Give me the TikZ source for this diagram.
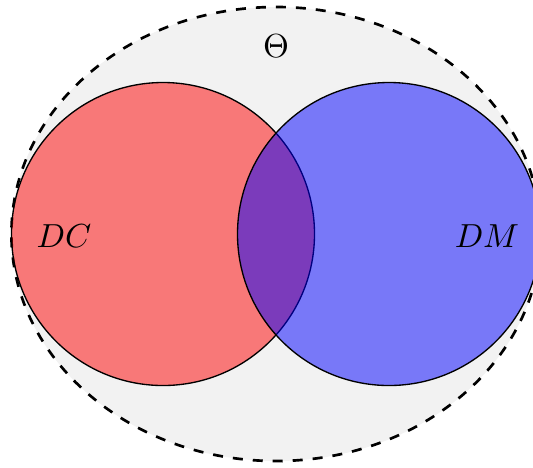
\documentclass[tikz,border=0pt]{standalone}
\begin{document}
\begin{tikzpicture}[x=0.3pt,y=-0.3pt,
  universe/.style={draw=black,dashed,thick,fill=gray!10},
  setcircle/.style={draw=black,fill opacity=0.5},
  setlabel/.style={inner sep=0pt}]
\useasboundingbox (0,0) rectangle (533,467);
\path[universe] (276,234) ellipse [x radius=264.6, y radius=227];
\path[setcircle,fill=red] (163,234) circle [radius=151.5];
\path[setcircle,fill=blue] (389,234) circle [radius=151.5];
\node[setlabel] (theta) at (276,46) {$\Theta$};
\node[setlabel] (dc) at (64,236) {$DC$};
\node[setlabel] (dm) at (487,236) {$DM$};
\end{tikzpicture}
\end{document}
